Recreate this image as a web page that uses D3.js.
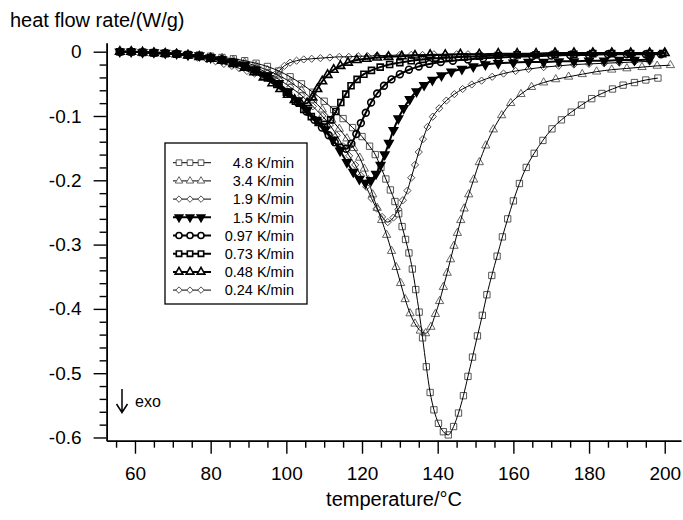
<!DOCTYPE html>
<html><head><meta charset="utf-8">
<script src="https://cdn.jsdelivr.net/npm/d3@7"></script>
<style>
body{margin:0;background:#fff}
svg{display:block}
text{font-family:"Liberation Sans",Arial,Helvetica,sans-serif;fill:#000}
</style>
</head><body>
<svg id="c" width="683" height="520"></svg>
<script>
// ---------------- data ----------------
const rates = ["4.8 K/min","3.4 K/min","1.9 K/min","1.5 K/min","0.97 K/min","0.73 K/min","0.48 K/min","0.24 K/min"];
const xTicks = [60,80,100,120,140,160,180,200];
const yTicks = [0,-0.1,-0.2,-0.3,-0.4,-0.5,-0.6];

const s48 = [[56,0],[59,0],[62,-0.001],[65,-0.001],[68,-0.002],[71,-0.003],[74,-0.004],[77,-0.005],[80,-0.007],[83,-0.009],[86,-0.011],[89,-0.014],[92,-0.018],[95,-0.023],[98,-0.03],[101,-0.039],[104,-0.05],[107,-0.063],[110,-0.077],[112.5,-0.09],[115,-0.104],[117.5,-0.118],[120,-0.132],[122,-0.147],[123.5,-0.16],[125,-0.18],[126.3,-0.198],[127.5,-0.215],[128.7,-0.233],[129.7,-0.252],[130.6,-0.272],[131.5,-0.292],[132.4,-0.313],[133.3,-0.338],[134.2,-0.37],[135.1,-0.405],[136,-0.445],[137,-0.49],[138,-0.53],[139,-0.557],[140.2,-0.578],[141.5,-0.591],[142.8,-0.596],[144.2,-0.583],[145.5,-0.562],[146.8,-0.535],[148,-0.505],[149.2,-0.475],[150.5,-0.442],[151.8,-0.41],[153,-0.378],[154.3,-0.348],[155.7,-0.318],[157.1,-0.288],[158.5,-0.26],[160,-0.232],[161.6,-0.205],[163.4,-0.18],[165.5,-0.158],[167.8,-0.138],[170.2,-0.12],[172.7,-0.106],[175.3,-0.094],[178,-0.083],[180.7,-0.073],[183.4,-0.065],[186.2,-0.058],[189,-0.052],[192,-0.048],[195,-0.044],[198.2,-0.041]];
const s34 = [[56,0],[59,0],[62,-0.001],[65,-0.001],[68,-0.002],[71,-0.003],[74,-0.004],[77,-0.006],[80,-0.008],[83,-0.01],[86,-0.013],[89,-0.017],[92,-0.022],[95,-0.029],[98,-0.037],[101,-0.047],[104,-0.06],[107,-0.075],[109.5,-0.09],[112,-0.106],[114,-0.12],[116,-0.135],[117.8,-0.15],[119.4,-0.165],[120.6,-0.182],[121.7,-0.2],[122.8,-0.222],[124,-0.243],[125.2,-0.262],[126.5,-0.285],[127.8,-0.31],[129,-0.335],[130.2,-0.36],[131.4,-0.385],[132.7,-0.407],[134,-0.423],[135.4,-0.434],[136.8,-0.438],[138.2,-0.428],[139.4,-0.408],[140.5,-0.388],[141.5,-0.366],[142.5,-0.344],[143.4,-0.323],[144.3,-0.302],[145.2,-0.282],[146.1,-0.262],[147,-0.244],[148.2,-0.222],[149.5,-0.199],[151,-0.172],[152.7,-0.146],[154.7,-0.121],[156.9,-0.099],[159.3,-0.08],[162,-0.066],[164.8,-0.055],[168,-0.048],[171.2,-0.043],[174.6,-0.039],[178.2,-0.035],[182,-0.031],[186,-0.028],[190,-0.026],[194,-0.024],[198,-0.022],[201.5,-0.021]];
const s19 = [[56,0],[59,0],[62,-0.001],[65,-0.001],[68,-0.002],[71,-0.003],[74,-0.004],[77,-0.006],[80,-0.009],[83,-0.011],[86,-0.015],[89,-0.019],[92,-0.025],[95,-0.033],[98,-0.043],[101,-0.055],[104,-0.068],[107,-0.085],[109.5,-0.1],[111.5,-0.114],[113.3,-0.13],[115,-0.147],[116.6,-0.162],[118.2,-0.176],[119.7,-0.193],[121.1,-0.21],[122.5,-0.228],[123.9,-0.244],[125.3,-0.257],[126.8,-0.265],[128.3,-0.258],[129.6,-0.245],[130.8,-0.231],[132,-0.216],[133,-0.196],[134,-0.176],[135,-0.156],[136.1,-0.136],[137.3,-0.117],[138.7,-0.101],[140.4,-0.088],[142.3,-0.076],[144.4,-0.066],[146.6,-0.058],[149,-0.051],[151.6,-0.045],[154.4,-0.039],[157.4,-0.034],[160.6,-0.03],[164,-0.027],[168,-0.024],[172,-0.022],[176,-0.02],[180,-0.019],[184,-0.018],[188,-0.017],[192,-0.016],[196,-0.015]];
const s15 = [[56,0],[59,0],[62,-0.001],[65,-0.001],[68,-0.002],[71,-0.003],[74,-0.005],[77,-0.006],[80,-0.009],[83,-0.012],[86,-0.016],[89,-0.021],[92,-0.028],[95,-0.037],[98,-0.049],[100.5,-0.062],[103,-0.076],[105.5,-0.091],[108,-0.106],[110.3,-0.121],[112.3,-0.137],[114.2,-0.154],[116,-0.172],[117.7,-0.187],[119.3,-0.198],[120.9,-0.204],[122.4,-0.2],[123.7,-0.19],[124.9,-0.176],[126,-0.16],[127.1,-0.142],[128.3,-0.122],[129.6,-0.104],[131,-0.088],[132.6,-0.074],[134.4,-0.062],[136.4,-0.052],[138.6,-0.044],[141,-0.037],[143.6,-0.031],[146.4,-0.027],[149.4,-0.023],[152.6,-0.02],[156,-0.018],[160,-0.017],[164,-0.016],[168,-0.016],[172,-0.015],[176,-0.015],[180,-0.014],[184,-0.014],[188,-0.013],[192,-0.013],[196,-0.012]];
const s097 = [[56,0],[59,0],[62,-0.001],[65,-0.002],[68,-0.002],[71,-0.003],[74,-0.005],[77,-0.007],[80,-0.009],[83,-0.012],[86,-0.017],[89,-0.022],[92,-0.029],[95,-0.039],[98,-0.051],[100.5,-0.064],[103,-0.079],[105.3,-0.093],[107.4,-0.106],[109.4,-0.118],[111.2,-0.13],[112.8,-0.141],[114.3,-0.149],[115.8,-0.151],[117.2,-0.143],[118.5,-0.128],[119.7,-0.111],[121,-0.095],[122.4,-0.079],[124,-0.065],[125.8,-0.053],[127.8,-0.043],[130,-0.035],[132.4,-0.028],[135,-0.023],[137.8,-0.019],[140.8,-0.016],[144,-0.014],[148,-0.012],[152,-0.01],[156,-0.009],[160,-0.008],[165,-0.007],[170,-0.006],[175,-0.005],[180,-0.005],[185,-0.004],[190,-0.004],[195,-0.004],[199,-0.004]];
const s073 = [[56,0],[59,0],[62,-0.001],[65,-0.002],[68,-0.003],[71,-0.004],[74,-0.005],[77,-0.007],[80,-0.01],[83,-0.013],[86,-0.018],[89,-0.023],[92,-0.031],[95,-0.041],[97.5,-0.051],[100,-0.063],[102.4,-0.077],[104.6,-0.09],[106.6,-0.101],[108.4,-0.11],[110.1,-0.113],[111.7,-0.106],[113.1,-0.093],[114.4,-0.079],[115.7,-0.066],[117.1,-0.053],[118.7,-0.043],[120.5,-0.035],[122.5,-0.029],[124.8,-0.024],[127.3,-0.02],[130,-0.017],[133,-0.014],[136,-0.012],[139.5,-0.01],[143,-0.009],[147,-0.008],[151,-0.007],[156,-0.006],[161,-0.005],[166,-0.005],[171,-0.004],[176,-0.004],[181,-0.003],[186,-0.003],[191,-0.003],[196,-0.003],[199.5,-0.003]];
const s048 = [[56,0],[59,0],[62,-0.001],[65,-0.002],[68,-0.003],[71,-0.004],[74,-0.006],[77,-0.008],[80,-0.011],[83,-0.014],[86,-0.019],[89,-0.025],[91.5,-0.032],[94,-0.04],[96.3,-0.049],[98.4,-0.058],[100.4,-0.067],[102.2,-0.075],[103.9,-0.081],[105.5,-0.08],[106.9,-0.071],[108.2,-0.058],[109.5,-0.046],[110.9,-0.036],[112.5,-0.028],[114.3,-0.022],[116.3,-0.017],[118.6,-0.013],[121.2,-0.011],[124,-0.009],[127,-0.008],[130.5,-0.007],[134,-0.006],[138,-0.005],[142,-0.005],[146,-0.004],[151,-0.004],[156,-0.003],[161,-0.003],[166,-0.003],[171,-0.002],[176,-0.002],[181,-0.002],[186,-0.002],[191,-0.002],[196,-0.002],[200,-0.002]];
const s024 = [[56,0],[59,0],[62,-0.001],[65,-0.002],[68,-0.003],[71,-0.005],[74,-0.007],[76.5,-0.009],[79,-0.012],[81.3,-0.015],[83.5,-0.019],[85.6,-0.022],[87.6,-0.026],[89.6,-0.03],[91.6,-0.034],[93.6,-0.037],[95.4,-0.039],[96.9,-0.036],[98.2,-0.029],[99.5,-0.022],[101,-0.017],[102.7,-0.014],[104.6,-0.012],[106.7,-0.011],[109,-0.01],[111.5,-0.009],[114,-0.008],[116.5,-0.008],[119,-0.007],[121.5,-0.007],[124,-0.006],[127,-0.006],[130,-0.005],[133,-0.005],[136,-0.005],[139,-0.004],[142,-0.004],[145,-0.004],[148,-0.004],[151,-0.003]];

const seriesData = [s48, s34, s19, s15, s097, s073, s048, s024];
// ---------------- styles ----------------
const styles = [
  {sym:"square", bold:false, size:40, stroke:"#444"},
  {sym:"tri",    bold:false, size:30, stroke:"#555"},
  {sym:"diamond",bold:false, size:26, stroke:"#444"},
  {sym:"tridown",bold:true,  size:30, stroke:"#000", fill:true},
  {sym:"circle", bold:true,  size:36, stroke:"#000"},
  {sym:"square", bold:true,  size:36, stroke:"#000"},
  {sym:"tri",    bold:true,  size:32, stroke:"#000"},
  {sym:"diamond",bold:false, size:26, stroke:"#444"}
];

const svg = d3.select("#c");
const x = d3.scaleLinear().domain([52.5, 204.3]).range([106.6, 681]);
const y = d3.scaleLinear().domain([-0.605, 0.014]).range([440.7, 42.7]);

function symPath(st, size){
  const t = st.sym;
  if (t==="square" || t==="diamond") return d3.symbol(d3.symbolSquare, size)();
  if (t==="circle") return d3.symbol(d3.symbolCircle, size)();
  return d3.symbol(d3.symbolTriangle, size)();
}
function symRot(st){
  if (st.sym==="tridown") return 180;
  if (st.sym==="diamond") return 45;
  return 0;
}

// ---------------- axes ----------------
const gx = svg.append("g").attr("transform",`translate(0,${y.range()[0]})`);
gx.call(d3.axisBottom(x).tickValues(d3.range(55,201,5).filter(v=>v%20!==0)).tickSize(7).tickSizeOuter(0).tickFormat(""));
gx.select(".domain").remove();
const gx2 = svg.append("g").attr("transform",`translate(0,${y.range()[0]})`);
gx2.call(d3.axisBottom(x).tickValues(xTicks).tickSize(13).tickSizeOuter(0).tickPadding(13).tickFormat(d=>d));
gx2.select(".domain").attr("stroke-width",1.8);
[gx,gx2].forEach(g=>g.selectAll(".tick line").attr("stroke-width",1.4));
gx2.selectAll("text").attr("font-size",19).style("font-family",'"Liberation Sans",Arial,sans-serif');

const yMinor = d3.range(-0.6,0.001,0.02).map(v=>+v.toFixed(2)).filter(v=>Math.abs(Math.round(v*10)-v*10)>1e-6);
const gy = svg.append("g").attr("transform",`translate(${x.range()[0]},0)`);
gy.call(d3.axisLeft(y).tickValues(yMinor).tickSize(7).tickSizeOuter(0).tickFormat(""));
gy.select(".domain").remove();
const gy2 = svg.append("g").attr("transform",`translate(${x.range()[0]},0)`);
gy2.call(d3.axisLeft(y).tickValues(yTicks).tickSize(13).tickSizeOuter(0).tickPadding(12).tickFormat(d=>d===0?"0":d.toFixed(1)));
gy2.select(".domain").attr("stroke-width",1.8);
[gy,gy2].forEach(g=>g.selectAll(".tick line").attr("stroke-width",1.4));
gy2.selectAll("text").attr("font-size",19).style("font-family",'"Liberation Sans",Arial,sans-serif');

// ---------------- series ----------------
const line = d3.line().x(d=>x(d[0])).y(d=>y(d[1])).curve(d3.curveMonotoneX);
const plot = svg.append("g");
const order = [7,2,1,0,6,5,4,3];
order.forEach(i=>{
  const st = styles[i], data = seriesData[i];
  const g = plot.append("g");
  g.selectAll("path.m").data(data).enter().append("path").attr("class","m")
    .attr("d", symPath(st, st.size))
    .attr("transform", d=>`translate(${x(d[0])},${y(d[1])}) rotate(${symRot(st)})`)
    .attr("fill", st.fill ? "#000" : "none")
    .attr("stroke", st.stroke)
    .attr("stroke-width", st.bold ? 1.6 : 0.9);
  g.append("path").datum(data).attr("d", line).attr("fill","none")
    .attr("stroke","#000").attr("stroke-width", st.bold ? 2 : 1);
});

// ---------------- legend ----------------
const lg = svg.append("g");
lg.append("rect").attr("x",165).attr("y",143).attr("width",142).attr("height",161)
  .attr("fill","#fff").attr("stroke","#000").attr("stroke-width",1.3);
rates.forEach((r,i)=>{
  const st = styles[i];
  const yy = 162.7 + i*18.2;
  lg.append("line").attr("x1",173).attr("x2",211).attr("y1",yy).attr("y2",yy)
    .attr("stroke","#000").attr("stroke-width", st.bold?2:1);
  [179,190,201].forEach(xx=>{
    lg.append("path").attr("d", symPath(st, st.size*0.8))
      .attr("transform",`translate(${xx},${yy}) rotate(${symRot(st)})`)
      .attr("fill", st.fill ? "#000" : "#fff")
      .attr("stroke", st.stroke).attr("stroke-width", st.bold?1.6:0.9);
  });
  lg.append("text").attr("x",294).attr("y",yy).attr("dy","0.36em")
    .attr("text-anchor","end").attr("font-size",14.5).text(r);
});

// ---------------- annotations ----------------
svg.append("text").attr("x",10).attr("y",27).attr("font-size",20).text("heat flow rate/(W/g)");
svg.append("text").attr("x",394).attr("y",506).attr("text-anchor","middle").attr("font-size",20).text("temperature/°C");
svg.append("path").attr("d","M122,389 L122,412 M116.5,404 L122,412.5 L127.5,404")
  .attr("fill","none").attr("stroke","#000").attr("stroke-width",1.5);
svg.append("text").attr("x",135).attr("y",401).attr("dy","0.35em").attr("font-size",16).text("exo");
</script>
</body></html>
